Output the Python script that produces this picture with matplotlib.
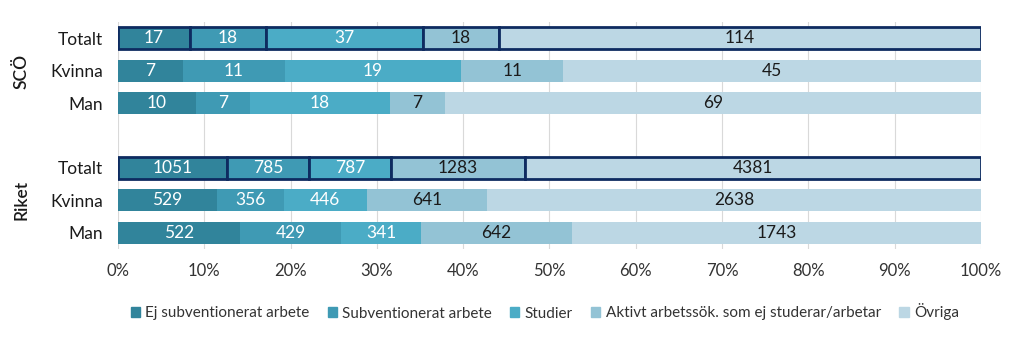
import numpy as np
import matplotlib.pyplot as plt
import matplotlib.patches as mpatches

plt.rcParams['font.family'] = ['Lato', 'DejaVu Sans']

categories = ["Ej subventionerat arbete", "Subventionerat arbete", "Studier",
              "Aktivt arbetssök. som ej studerar/arbetar", "Övriga"]
rows = ["Totalt", "Kvinna", "Man"]
groups = ["SCÖ", "Riket"]

sco = [[17, 18, 37, 18, 114],
       [7, 11, 19, 11, 45],
       [10, 7, 18, 7, 69]]
riket = [[1051, 785, 787, 1283, 4381],
         [529, 356, 446, 641, 2638],
         [522, 429, 341, 642, 1743]]

colors = ["#31849B", "#3F9AB4", "#4BACC6", "#93C3D5", "#BCD7E4"]
text_colors = ["white", "white", "white", "#1a1a1a", "#1a1a1a"]

fig = plt.figure(figsize=(10.24, 3.42), dpi=100)
ax = fig.add_axes([0.1152, 0.272, 0.8428, 0.6638])

# y positions: SCÖ rows on top, blank slot, then Riket rows
ypos = {("SCÖ", 0): 6, ("SCÖ", 1): 5, ("SCÖ", 2): 4,
        ("Riket", 0): 2, ("Riket", 1): 1, ("Riket", 2): 0}

for g, data in zip(groups, [sco, riket]):
    for i, vals in enumerate(data):
        vals = np.array(vals, dtype=float)
        pct = vals / vals.sum()
        left = 0
        y = ypos[(g, i)]
        for k in range(len(vals)):
            if i == 0:
                ax.barh(y, pct[k], left=left, height=0.68, color=colors[k],
                        edgecolor="#0E2B60", linewidth=2, zorder=3)
            else:
                ax.barh(y, pct[k], left=left, height=0.68, color=colors[k],
                        linewidth=0, zorder=3)
            ax.text(left + pct[k] / 2, y, f"{int(vals[k])}", ha="center",
                    va="center", fontsize=12.5, color=text_colors[k], zorder=4)
            left += pct[k]

ax.set_xlim(0, 1)
ax.set_ylim(-0.5, 6.5)
ticks = np.arange(0, 1.01, 0.1)
ax.set_xticks(ticks)
ax.set_xticklabels([f"{int(round(t * 100))}%" for t in ticks],
                   fontsize=12, color="#333333")
ax.set_yticks([6, 5, 4, 2, 1, 0])
ax.set_yticklabels(rows + rows, fontsize=12.5, color="#1a1a1a")
ax.tick_params(length=0)
ax.tick_params(axis="y", pad=11)
ax.tick_params(axis="x", pad=10)
ax.grid(axis="x", color="#d9d9d9", linewidth=0.8, zorder=0)
for s in ax.spines.values():
    s.set_visible(False)

fig.text(22 / 1024, 1 - 71 / 342, "SCÖ", rotation=90, ha="center", va="center",
         fontsize=12.5, fontweight="semibold", color="#1a1a1a")
fig.text(22 / 1024, 1 - 200 / 342, "Riket", rotation=90, ha="center", va="center",
         fontsize=12.5, fontweight="semibold", color="#1a1a1a")

handles = [mpatches.Patch(color=c) for c in colors]
fig.legend(handles, categories, loc="center", bbox_to_anchor=(0.532, 1 - 312 / 342),
           ncol=5, frameon=False, fontsize=11, handlelength=0.6, handleheight=0.6,
           handletextpad=0.35, columnspacing=1.2, labelcolor="#333333")

fig.savefig("out.png", dpi=100)
